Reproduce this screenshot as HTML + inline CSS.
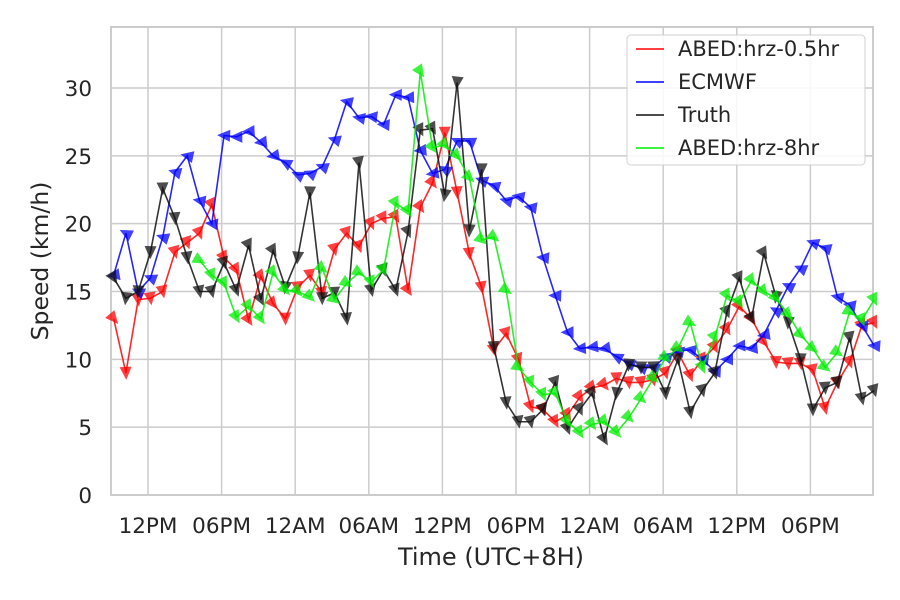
<!DOCTYPE html>
<html><head><meta charset="utf-8"><style>
body{margin:0;background:#fff;}
svg{display:block;font-family:"DejaVu Sans","Liberation Sans",sans-serif;}
</style></head><body>
<svg id="chart" width="900" height="600" viewBox="0 0 900 600"></svg>
<script>
const xTickLabels=["12PM","06PM","12AM","06AM","12PM","06PM","12AM","06AM","12PM","06PM"];
const yTicks=[0,5,10,15,20,25,30];
const ecmwf=[16.2,19.3,15,16,19,23.8,25,21.7,20,26.5,26.4,26.8,26,25,24.5,23.6,23.7,24.2,26.2,29,27.8,27.9,27.3,29.5,29.3,25.4,23.7,24,26.1,26.1,23.2,22.8,21.7,22,21.2,17.5,14.7,12,10.8,10.9,10.8,10.2,9.7,9.4,9.4,10.2,10.6,10.7,10,9.1,10,11,10.8,11.8,13.6,15.4,16.7,18.6,18.2,14.6,14,12.5,11];
const truth=[16,14.5,15,17.9,22.6,20.4,17.5,15,15,17.1,15.1,18.4,14.4,18,15.3,17.5,22.3,14.5,14.9,13,24.5,15.1,16.6,15.1,19.4,26.9,27,22.1,30.4,19.5,24,10.9,6.8,5.4,5.4,6.3,8.3,4.9,6.3,7.5,4.1,7.5,9.6,9.4,9.4,7.5,10,6.1,7.7,9,13.5,16,13,17.8,14.6,12.7,10,6.3,7.9,8.3,11.6,7.1,7.7];
const abed05=[13,9,14.4,14.5,15,17.9,18.6,19.3,21.4,17.5,16.6,12.9,16.1,14.1,13,15.3,16.2,14.9,18.1,19.3,18.3,20,20.4,20.5,15.1,21.2,23,26.7,22.3,17.8,15.3,10.7,11.9,10,6.5,6.3,5.4,5.9,7.2,7.9,8.1,8.6,8.3,8.3,8.5,9,10.5,8.8,10,10.9,12.2,13.9,13,11.3,9.8,9.7,9.7,9.2,6.4,8.3,9.8,12.5,12.7];
const abed8Start=7;
const abed8=[17.3,16.2,15.6,13.1,13.9,13,16.4,15.1,15,14.6,16.7,14.4,15.6,16.4,15.7,16.6,21.5,20.9,31.2,25.6,25.8,25,23.4,18.8,19,15.1,9.4,8.3,7.4,7.5,5.4,4.6,5.2,5.4,4.6,5.7,7.1,8.6,10.1,10.8,12.7,9.4,11.6,14.7,14.2,15.8,15,14.5,13.3,11.8,10.8,9.4,10.5,13.5,12.9,14.4];
const seriesNames=["ABED:hrz-0.5hr","ECMWF","Truth","ABED:hrz-8hr"];

const svg=document.getElementById('chart');
const NS='http://www.w3.org/2000/svg';
const L=111,R=873,T=27,B=495;
const xs=t=>148+t*73.6/6;
const ys=v=>B-v*(B-88)/30;
const tOf=i=>-2.8+i;
function mk(tag,attrs,parent){const e=document.createElementNS(NS,tag);for(const k in attrs)e.setAttribute(k,attrs[k]);(parent||svg).appendChild(e);return e;}

const grid=mk('g',{});


xTickLabels.forEach((lab,i)=>{
  const x=xs(i*6);
  const gl=mk('line',{x1:x,x2:x,y1:T,y2:B,stroke:'#cccccc','stroke-width':1.5},grid);
  
  
  const tx=mk('text',{x:x,y:533,'text-anchor':'middle','font-size':21.5,fill:'#262626'});
  
  
  tx.textContent=lab;
});
yTicks.forEach(v=>{
  const y=ys(v);
  const gl=mk('line',{x1:L,x2:R,y1:y,y2:y,stroke:'#cccccc','stroke-width':1.5},grid);
  
  
  const tx=mk('text',{x:92,y:y+8,'text-anchor':'end','font-size':21.5,fill:'#262626'});
  
  
  tx.textContent=v;
});
const frame=mk('rect',{x:L,y:T,width:R-L,height:B-T,fill:'none',stroke:'#cccccc','stroke-width':2});



function drawSeries(vals,start,color,ang,name){
  const g=mk('g',{});
  
  
  const pts=vals.map((v,i)=>[xs(tOf(i+start)),ys(v)]);
  const pl=mk('polyline',{points:pts.map(p=>p.join(',')).join(' '),fill:'none',stroke:color,'stroke-width':1.6,'stroke-opacity':0.85},g);
  
  
  pts.forEach((p,i)=>{
    const a=ang+((i*37)%40-20);
    const m=mk('polygon',{points:'-6,-6 7,0 -6,6',fill:color,'fill-opacity':0.75,transform:`translate(${p[0]},${p[1]}) rotate(${a})`},g);
    
    
  });
}
drawSeries(abed05,0,'#ff0000',70,'abed-0.5hr-series');
drawSeries(ecmwf,0,'#0000ff',190,'ecmwf-series');
drawSeries(truth,0,'#111111',80,'truth-series');
drawSeries(abed8,abed8Start,'#00ee00',50,'abed-8hr-series');

const xt=mk('text',{x:491,y:565,'text-anchor':'middle','font-size':24,fill:'#262626'});


xt.textContent='Time (UTC+8H)';
const yt=mk('text',{x:0,y:0,'text-anchor':'middle','font-size':23.5,fill:'#262626',transform:'translate(48,261) rotate(-90)'});


yt.textContent='Speed (km/h)';

const lg=mk('g',{});


const lb=mk('rect',{x:627,y:35,width:238,height:130,rx:4,fill:'#fff','fill-opacity':0.85,stroke:'#d0d0d0'},lg);


const lcols=['#ff0000','#0000ff','#111111','#00ee00'];
seriesNames.forEach((n,i)=>{
  const y=49+i*33;
  const e=mk('g',{},lg);
  
  
  mk('line',{x1:636,x2:664,y1:y,y2:y,stroke:lcols[i],'stroke-width':1.6},e);
  const t=mk('text',{x:678,y:y+7,'font-size':21,fill:'#262626'},e);
  t.textContent=n;
});
</script>
</body></html>
